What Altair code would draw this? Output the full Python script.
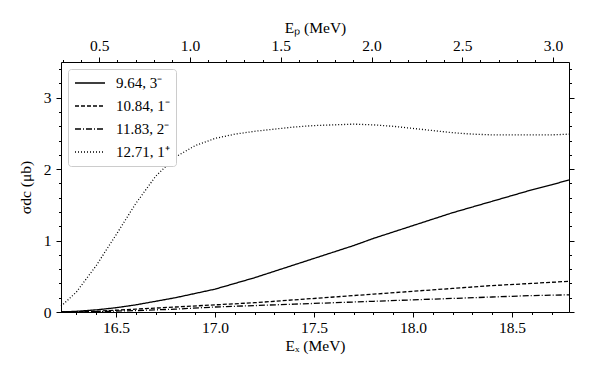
import altair as alt
import pandas as pd

# ---- data ----
series_names = ["9.64, 3⁻", "10.84, 1⁻", "11.83, 2⁻", "12.71, 1⁺"]

ex_solid = [16.222, 16.3, 16.4, 16.5, 16.6, 16.7, 16.8, 16.9, 17.0, 17.1, 17.2, 17.3, 17.4,
            17.5, 17.6, 17.7, 17.8, 17.9, 18.0, 18.1, 18.2, 18.3, 18.4, 18.5, 18.6, 18.7, 18.788]
s_solid = [0.0, 0.01, 0.03, 0.06, 0.1, 0.15, 0.2, 0.26, 0.32, 0.4, 0.48, 0.57, 0.66,
           0.75, 0.84, 0.93, 1.03, 1.12, 1.21, 1.3, 1.39, 1.47, 1.55, 1.63, 1.71, 1.78, 1.85]

ex_dash = [16.222, 16.4, 16.6, 16.8, 17.0, 17.2, 17.4, 17.6, 17.8, 18.0, 18.2, 18.4, 18.6, 18.788]
s_dash = [0.0, 0.01, 0.04, 0.07, 0.1, 0.13, 0.17, 0.21, 0.25, 0.29, 0.33, 0.37, 0.4, 0.43]

ex_dashdot = [16.222, 16.4, 16.6, 16.8, 17.0, 17.2, 17.4, 17.6, 17.8, 18.0, 18.2, 18.4, 18.6, 18.788]
s_dashdot = [0.0, 0.005, 0.02, 0.04, 0.07, 0.09, 0.11, 0.13, 0.15, 0.17, 0.19, 0.21, 0.23, 0.24]

ex_dot = [16.222, 16.3, 16.4, 16.5, 16.6, 16.7, 16.8, 16.9, 17.0, 17.1, 17.2, 17.3, 17.4,
          17.5, 17.6, 17.7, 17.8, 17.9, 18.0, 18.1, 18.2, 18.3, 18.4, 18.5, 18.6, 18.7, 18.788]
s_dot = [0.08, 0.28, 0.65, 1.08, 1.52, 1.9, 2.17, 2.33, 2.43, 2.49, 2.53, 2.56, 2.59,
         2.61, 2.62, 2.63, 2.62, 2.6, 2.57, 2.54, 2.51, 2.49, 2.48, 2.48, 2.48, 2.48, 2.49]

ex_domain = [16.222, 18.788]
ep_domain = [0.289, 3.088]
y_domain = [0, 3.5]

ex_ticks = [round(16.3 + 0.1 * i, 1) for i in range(25)]
ep_ticks = [round(0.3 + 0.1 * i, 1) for i in range(28)]
y_ticks = [round(0.2 * i, 1) for i in range(18)]

rows = []
for name, xs, ys in zip(series_names,
                        [ex_solid, ex_dash, ex_dashdot, ex_dot],
                        [s_solid, s_dash, s_dashdot, s_dot]):
    for x, y in zip(xs, ys):
        rows.append({"series": name, "Ex": x, "sigma": y})
df = pd.DataFrame(rows)
df_ep = pd.DataFrame({"Ep": ep_domain, "sigma": [0, 0]})

FONT = "Liberation Serif"
half = "abs(datum.value*2 - round(datum.value*2)) < 1e-6"
whole = "abs(datum.value - round(datum.value)) < 1e-6"

def tsize(test):
    return {"condition": {"test": test, "value": 5}, "value": 2.5}

common = dict(domainColor="black", tickColor="black", tickWidth=1, domainWidth=1,
              labelFont=FONT, labelFontSize=15.5, labelColor="black",
              titleFont=FONT, titleFontSize=15.5, titleFontWeight="normal",
              titleColor="black", grid=False)

lines = alt.Chart(df).mark_line(color="black", strokeWidth=1.3).encode(
    x=alt.X("Ex:Q", scale=alt.Scale(domain=ex_domain, nice=False, zero=False),
            axis=alt.Axis(orient="bottom", values=ex_ticks, tickSize=tsize(half),
                          labelExpr=f"{half} ? format(datum.value, '.1f') : ''",
                          labelPadding=3, title="Eₓ (MeV)", titlePadding=3, **common)),
    y=alt.Y("sigma:Q", scale=alt.Scale(domain=y_domain, nice=False),
            axis=alt.Axis(orient="left", values=y_ticks, tickSize=tsize(whole),
                          labelExpr=f"{whole} ? format(datum.value, 'd') : ''",
                          labelPadding=5, title="σdc (μb)", titlePadding=10, **common)),
    strokeDash=alt.StrokeDash(
        "series:N",
        scale=alt.Scale(domain=series_names,
                        range=[[1, 0], [4, 2], [6, 2, 1, 2], [1, 2]]),
        legend=alt.Legend(title=None, orient="top-left", offset=7,
                          symbolType="stroke", symbolSize=900,
                          symbolStrokeWidth=1.3, symbolStrokeColor="black",
                          labelFont=FONT, labelFontSize=15, labelColor="black",
                          labelOffset=10, clipHeight=16, rowPadding=7,
                          padding=6, strokeColor="#cccccc", fillColor="white",
                          cornerRadius=3)),
)

top = alt.Chart(df_ep).mark_line(opacity=0).encode(
    x=alt.X("Ep:Q", scale=alt.Scale(domain=ep_domain, nice=False, zero=False),
            axis=alt.Axis(orient="top", values=ep_ticks, tickSize=tsize(half),
                          labelExpr=f"{half} ? format(datum.value, '.1f') : ''",
                          labelPadding=4, title="Eₚ (MeV)", titlePadding=3, **common)),
    y=alt.Y("sigma:Q", scale=alt.Scale(domain=y_domain, nice=False),
            axis=alt.Axis(orient="right", values=y_ticks, tickSize=tsize(whole),
                          labels=False, title=None, **common)),
)

chart = alt.layer(lines, top).resolve_scale(x="independent", y="shared").resolve_axis(
    x="independent", y="independent"
).properties(
    width=508, height=250,
    autosize=alt.AutoSizeParams(type="none"),
    padding={"left": 53, "top": 54, "right": 15, "bottom": 60},
).configure_view(stroke=None).configure(background="white")

chart.save("out.html", embed_options={"renderer": "svg", "actions": False})
